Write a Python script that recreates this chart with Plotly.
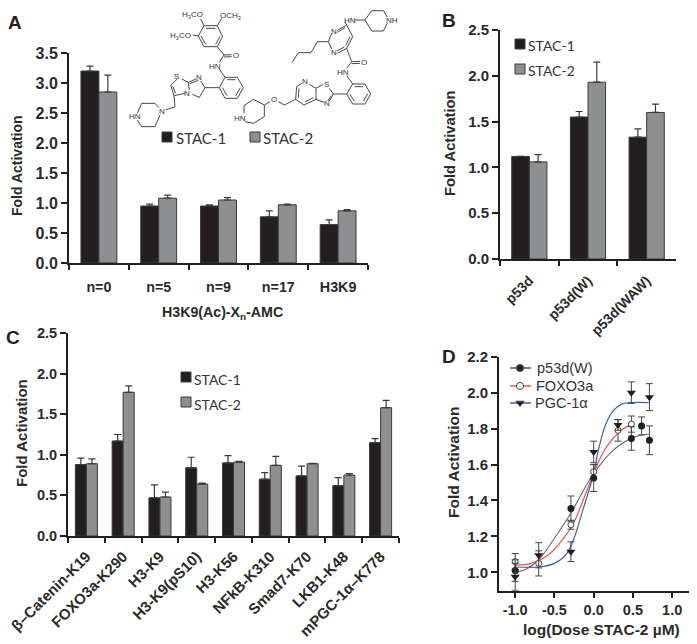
import plotly.graph_objects as go

W, H = 697, 644
BLACK = "#231f20"
GREY = "#8d8f91"
EDGE = "#3a3a3a"
BOLD = "Liberation Sans"
INK = "#2a2a2a"

# --- panel A ---
a_cats = ["n=0", "n=5", "n=9", "n=17", "H3K9"]
a_stac1 = [3.20, 0.95, 0.95, 0.77, 0.64]
a_stac1_err = [0.08, 0.03, 0.02, 0.10, 0.08]
a_stac2 = [2.85, 1.08, 1.05, 0.97, 0.87]
a_stac2_err = [0.28, 0.05, 0.04, 0.01, 0.02]

# --- panel B ---
b_cats = ["p53d", "p53d(W)", "p53d(WAW)"]
b_stac1 = [1.12, 1.55, 1.33]
b_stac1_err = [0.0, 0.06, 0.09]
b_stac2 = [1.06, 1.93, 1.60]
b_stac2_err = [0.08, 0.22, 0.09]

# --- panel C ---
c_cats = ["β–Catenin-K19", "FOXO3a-K290", "H3-K9", "H3-K9(pS10)", "H3-K56",
          "NFkB-K310", "Smad7-K70", "LKB1-K48", "mPGC-1α–K778"]
c_stac1 = [0.88, 1.17, 0.47, 0.84, 0.90, 0.70, 0.74, 0.62, 1.15]
c_stac1_err = [0.08, 0.08, 0.16, 0.13, 0.09, 0.08, 0.12, 0.10, 0.05]
c_stac2 = [0.89, 1.77, 0.48, 0.64, 0.91, 0.87, 0.89, 0.75, 1.58]
c_stac2_err = [0.06, 0.08, 0.06, 0.01, 0.01, 0.11, 0.005, 0.02, 0.09]

# --- panel D: measured points ---
p53_x = [-1.0, -0.29, 0.0, 0.48, 0.61, 0.71]
p53_y = [1.01, 1.355, 1.525, 1.745, 1.815, 1.735]
p53_err = [0.06, 0.07, 0.075, 0.065, 0.05, 0.08]
foxo_x = [-1.0, -0.70, -0.29, 0.0, 0.31, 0.48]
foxo_y = [1.06, 1.05, 1.265, 1.56, 1.79, 1.825]
foxo_err = [0.045, 0.07, 0.025, 0.04, 0.06, 0.045]
pgc_x = [-1.0, -0.70, -0.29, 0.0, 0.31, 0.48, 0.71]
pgc_y = [0.975, 1.095, 1.115, 1.67, 1.82, 2.0, 1.975]
pgc_err = [0.075, 0.07, 0.055, 0.06, 0.03, 0.06, 0.075]

# --- panel D: fitted curves ---
p53_fit_x = [-1.0, -0.85, -0.7, -0.5, -0.29, -0.15, 0.0, 0.25, 0.5, 0.7]
p53_fit_y = [1.0, 1.02, 1.07, 1.19, 1.33, 1.44, 1.55, 1.68, 1.75, 1.77]
foxo_fit_x = [-1.0, -0.8, -0.6, -0.4, -0.25, -0.1, 0.0, 0.1, 0.2, 0.35, 0.48]
foxo_fit_y = [1.04, 1.05, 1.09, 1.18, 1.28, 1.44, 1.55, 1.65, 1.72, 1.79, 1.825]
pgc_fit_x = [-1.0, -0.7, -0.5, -0.35, -0.25, -0.15, 0.0, 0.06, 0.15, 0.25, 0.35, 0.5, 0.7]
pgc_fit_y = [1.03, 1.03, 1.05, 1.10, 1.19, 1.33, 1.55, 1.68, 1.82, 1.90, 1.935, 1.945, 1.945]

d_ticks = [-1.0, -0.5, 0.0, 0.5, 1.0]
d_ticktext = ["-1.0", "-0.5", "0.0", "0.5", "1.0"]

# chemical structures at 3x, each with its own offset
mol1_bonds = [
    [(222, 62), (262, 62), (278, 95), (262, 125), (222, 125), (205, 93), (222, 62)],
    [(228, 70), (256, 70)], [(270, 95), (257, 118)], [(227, 118), (213, 93)],
    [(262, 62), (275, 40)], [(222, 62), (212, 42)], [(205, 93), (188, 90)],
    [(262, 125), (282, 150), (305, 149)], [(282, 156), (305, 155)],
    [(282, 150), (268, 172)], [(268, 192), (285, 217)],
    [(285, 217), (322, 217), (340, 248), (322, 280), (285, 280), (268, 248), (285, 217)],
    [(292, 224), (316, 224)], [(331, 248), (317, 272)], [(291, 272), (277, 248)],
    [(268, 248), (225, 248), (212, 228)], [(198, 222), (175, 232), (178, 255)],
    [(225, 248), (208, 277), (187, 268)], [(204, 226), (180, 236)],
    [(175, 232), (155, 222)], [(142, 222), (122, 240), (132, 272), (165, 265)],
    [(128, 244), (137, 265)],
    [(132, 272), (135, 305), (107, 315)],
    [(87, 308), (75, 295), (35, 295), (22, 325)], [(22, 345), (35, 365), (75, 365), (90, 330)],
]
mol1_atoms = [("H<sub>3</sub>CO", 187, 30), ("OCH<sub>3</sub>", 302, 32), ("H<sub>3</sub>CO", 152, 92),
              ("O", 317, 152), ("HN", 255, 183), ("N", 207, 218), ("S", 138, 215),
              ("N", 172, 265), ("N", 95, 318), ("HN", 15, 335)]
mol1_shift = (390, 15)

mol2_bonds = [
    [(375, 45), (405, 45), (425, 17), (460, 17), (472, 36)],
    [(472, 54), (460, 78), (425, 78), (405, 45)],
    [(345, 50), (350, 60), (322, 76)], [(305, 85), (295, 110), (305, 132)],
    [(322, 145), (350, 130), (368, 95), (350, 60)], [(360, 95), (347, 122)],
    [(322, 137), (343, 126)], [(322, 82), (345, 68)],
    [(295, 110), (262, 110), (243, 143), (205, 143), (187, 172)],
    [(350, 130), (365, 170), (390, 169)], [(365, 176), (390, 175)],
    [(365, 170), (350, 190)], [(350, 212), (368, 237)],
    [(368, 237), (405, 237), (422, 267), (405, 297), (368, 297), (350, 267), (368, 237)],
    [(374, 245), (399, 245)], [(413, 267), (400, 289)], [(374, 289), (359, 267)],
    [(350, 267), (310, 267), (298, 250)], [(280, 238), (258, 250), (258, 283), (282, 292)],
    [(310, 267), (298, 288)], [(304, 272), (293, 288)],
    [(258, 250), (238, 238)], [(215, 235), (200, 245), (197, 283), (222, 300), (258, 283)],
    [(207, 250), (205, 278)], [(225, 291), (250, 278)],
    [(197, 283), (163, 300), (145, 290)], [(120, 290), (103, 300), (70, 283), (42, 302), (42, 325)],
    [(45, 350), (70, 355), (103, 335), (103, 300)],
]
mol2_atoms = [("HN", 360, 47), ("N", 313, 78), ("N", 313, 142), ("O", 402, 172), ("HN", 338, 202),
              ("N", 225, 228), ("S", 290, 238), ("N", 291, 296), ("O", 133, 283),
              ("HN", 30, 340), ("NH", 485, 45)]
mol2_shift = (690, 15)


def xdom(left, right):
    return [left / W, right / W]


def ydom(bottom, top):
    return [1 - bottom / H, 1 - top / H]


def bars(fig, cats, vals, errs, color, name, xa, ya):
    fig.add_trace(go.Bar(
        x=cats, y=vals, name=name, xaxis=xa, yaxis=ya,
        marker=dict(color=color, line=dict(color=EDGE, width=1)),
        error_y=dict(type="data", symmetric=False, array=errs,
                     arrayminus=[0] * len(errs), color=EDGE, thickness=1.2, width=3.5),
        showlegend=False,
    ))


fig = go.Figure()
bars(fig, a_cats, a_stac1, a_stac1_err, BLACK, "STAC-1", "x", "y")
bars(fig, a_cats, a_stac2, a_stac2_err, GREY, "STAC-2", "x", "y")
bars(fig, b_cats, b_stac1, b_stac1_err, BLACK, "STAC-1", "x2", "y2")
bars(fig, b_cats, b_stac2, b_stac2_err, GREY, "STAC-2", "x2", "y2")
bars(fig, c_cats, c_stac1, c_stac1_err, BLACK, "STAC-1", "x3", "y3")
bars(fig, c_cats, c_stac2, c_stac2_err, GREY, "STAC-2", "x3", "y3")

# panel D curves then points
for fx, fy, col in [(p53_fit_x, p53_fit_y, "#6e6e6e"),
                    (foxo_fit_x, foxo_fit_y, "#f0504a"),
                    (pgc_fit_x, pgc_fit_y, "#3f5fb0")]:
    fig.add_trace(go.Scatter(x=fx, y=fy, mode="lines", xaxis="x4", yaxis="y4", showlegend=False,
                             line=dict(color=col, width=1.2, shape="spline")))

for px, py, pe, name, marker in [
    (foxo_x, foxo_y, foxo_err, "FOXO3a",
     dict(symbol="circle", size=6, color="white", line=dict(color="#444444", width=1))),
    (p53_x, p53_y, p53_err, "p53d(W)",
     dict(symbol="circle", size=7, color=BLACK)),
    (pgc_x, pgc_y, pgc_err, "PGC-1α",
     dict(symbol="triangle-down", size=8, color=BLACK)),
]:
    fig.add_trace(go.Scatter(
        x=px, y=py, mode="markers", name=name, xaxis="x4", yaxis="y4", showlegend=False,
        marker=marker, cliponaxis=False,
        error_y=dict(type="data", array=pe, color="#444444", thickness=1, width=3.5),
    ))

# full-page overlay in pixels: structures and legend keys
mol_x, mol_y = [], []
annots = []
for bond_list, atoms, (ox, oy) in [(mol1_bonds, mol1_atoms, mol1_shift),
                                   (mol2_bonds, mol2_atoms, mol2_shift)]:
    for bond in bond_list:
        mol_x += [(p[0] + ox) / 3 for p in bond] + [None]
        mol_y += [(p[1] + oy) / 3 for p in bond] + [None]
    for txt, ax_, ay_ in atoms:
        annots.append(dict(text=txt, x=(ax_ + ox) / 3, y=(ay_ + oy) / 3, xref="x5", yref="y5",
                           showarrow=False, font=dict(family=BOLD, size=8, color="#333333")))

fig.add_trace(go.Scatter(x=mol_x, y=mol_y, mode="lines", xaxis="x5", yaxis="y5", showlegend=False,
                         line=dict(color="#484848", width=1), hoverinfo="skip"))


def key_text(txt, x, y, size, family="Lato", color="#333333"):
    annots.append(dict(text=txt, x=x, y=y, xref="x5", yref="y5", xanchor="left", showarrow=False,
                       font=dict(family=family, size=size, color=color)))


shapes = []


def swatch(x0, y0, size, color):
    shapes.append(dict(type="rect", x0=x0, x1=x0 + size, y0=y0, y1=y0 + size, xref="x5", yref="y5",
                       fillcolor=color, line=dict(color=EDGE, width=1)))


for sx, sy, tx, ty, fs, label, col in [
    (162, 132, 174, 138, 15, "STAC-1", BLACK), (250, 132, 261, 138, 15, "STAC-2", GREY),
    (515, 39, 526, 45, 14, "STAC-1", BLACK), (515, 64, 526, 70, 14, "STAC-2", GREY),
    (181, 372, 192, 379, 14, "STAC-1", BLACK), (181, 397, 192, 404, 14, "STAC-2", GREY),
]:
    swatch(sx, sy, 10, col)
    key_text(label, tx, ty, fs)

# panel D legend
leg_y = [368, 386, 403]
leg_col = ["#555555", "#f0504a", "#3f5fb0"]
leg_txt = ["p53d(W)", "FOXO3a", "PGC-1α"]
leg_sym = ["circle", "circle", "triangle-down"]
leg_fill = [BLACK, "white", BLACK]
leg_tx = [535, 534, 533]
for i in range(3):
    fig.add_trace(go.Scatter(x=[510, 531], y=[leg_y[i]] * 2, mode="lines", xaxis="x5", yaxis="y5",
                             showlegend=False, line=dict(color=leg_col[i], width=1.5), hoverinfo="skip"))
    fig.add_trace(go.Scatter(x=[520], y=[leg_y[i]], mode="markers", xaxis="x5", yaxis="y5",
                             showlegend=False, hoverinfo="skip",
                             marker=dict(symbol=leg_sym[i], size=7, color=leg_fill[i],
                                         line=dict(color="#444444", width=1))))
    key_text(leg_txt[i], leg_tx[i], leg_y[i], 14.5, family="Liberation Sans")

# panel letters
for letter, lx, ly in [("A", 15, 22), ("B", 449, 20), ("C", 13, 337), ("D", 449, 356)]:
    annots.append(dict(text=f"<b>{letter}</b>", x=lx, y=ly, xref="x5", yref="y5", showarrow=False,
                       font=dict(family=BOLD, size=19, color=BLACK)))

# axis titles sit at fixed spots, margins are zero
for txt, tx, ty, ang, fs in [
    ("Fold Activation", 17, 166, -90, 14), ("Fold Activation", 450, 143, -90, 14.7),
    ("Fold Activation", 21, 433, -90, 15), ("Fold Activation", 453, 463, -90, 15.5),
    ("H3K9(Ac)-X<sub>n</sub>-AMC", 222, 313, 0, 14.2), ("log(Dose STAC-2 µM)", 601, 629, 0, 15.5),
]:
    annots.append(dict(text=f"<b>{txt}</b>", x=tx, y=ty, xref="x5", yref="y5", showarrow=False,
                       textangle=ang, font=dict(family=BOLD, size=fs, color=INK)))


def tick_font(size):
    return dict(family=BOLD, size=size, color=INK, weight="bold")


axis_style = dict(showline=True, linecolor=BLACK, linewidth=2, ticks="outside", tickcolor=BLACK,
                  tickwidth=2, ticklen=5, showgrid=False, zeroline=False, automargin=False)


def cat_axis(left, right, n, **kw):
    return dict(axis_style, domain=xdom(left, right), type="category", tickson="boundaries",
                range=[-0.5, n - 0.5], **kw)


def val_axis(bottom, top, rng, dtick, xa, size, tick0=0):
    style = dict(axis_style, ticklen=6)
    return dict(style, domain=ydom(bottom, top), range=rng, dtick=dtick, tick0=tick0, anchor=xa,
                tickformat=".1f", tickfont=tick_font(size))


fig.update_layout(
    template="none",
    width=W, height=H, autosize=False,
    margin=dict(l=0, r=0, t=0, b=0),
    paper_bgcolor="white", plot_bgcolor="rgba(0,0,0,0)",
    barmode="group", bargap=0.4, bargroupgap=0,
    xaxis=cat_axis(69, 368, 5, anchor="y", tickfont=tick_font(14.3), ticklabelstandoff=10),
    yaxis=val_axis(263, 53, [0, 3.5], 0.5, "x", 16),
    xaxis2=cat_axis(500, 676, 3, anchor="y2", tickangle=-45, tickfont=tick_font(14), ticklabelstandoff=6),
    yaxis2=val_axis(259, 30, [0, 2.5], 0.5, "x2", 15),
    xaxis3=cat_axis(68, 399, 9, anchor="y3", tickangle=-45, tickfont=tick_font(15), ticklabelstandoff=4),
    yaxis3=val_axis(536, 333, [0, 2.5], 0.5, "x3", 14.5),
    xaxis4=dict(axis_style, domain=xdom(499, 689), range=[-1.206, 1.214], anchor="y4",
                tickvals=d_ticks, ticktext=d_ticktext, tickfont=tick_font(14.5)),
    yaxis4=val_axis(590.7, 356.7, [0.898, 2.2], 0.2, "x4", 15, tick0=1.0),
    xaxis5=dict(domain=[0, 1], range=[0, W], visible=False, anchor="y5"),
    yaxis5=dict(domain=[0, 1], range=[H, 0], visible=False, anchor="x5"),
    annotations=annots,
    shapes=shapes,
    font=dict(family=BOLD),
    showlegend=False,
)

fig.write_html("out.html", post_script="document.body.style.margin='0';",
               config=dict(displayModeBar=False))
